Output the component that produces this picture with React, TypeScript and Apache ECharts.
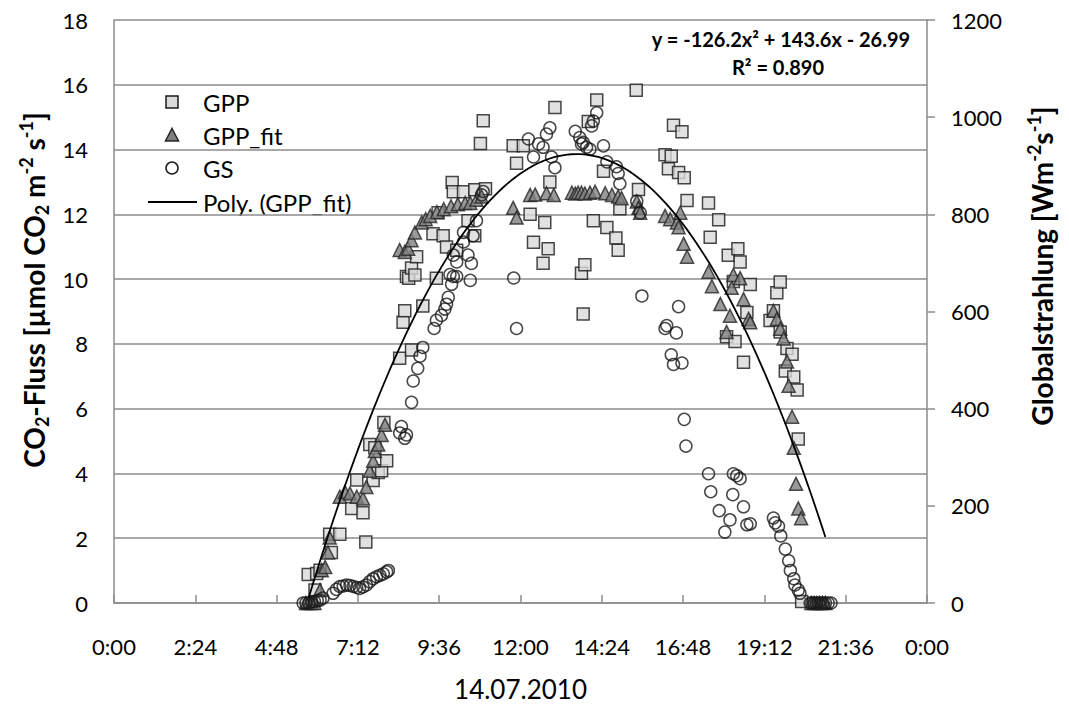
import React, { useEffect, useRef } from "react";
import * as echarts from "echarts";

// Measured fluxes on 14.07.2010, as [local time, value]
// GPP and GPP_fit in µmol CO2 m-2 s-1, GS (global radiation) in W m-2
const GPP: [string, number][] = [
  ["5:44", 0.88], ["5:56", 0.4], ["5:59", 0.91], ["6:05", 1.01], ["6:22", 2.12], ["6:25", 1.56],
  ["6:40", 2.12], ["7:01", 2.92], ["7:10", 3.8], ["7:21", 2.79], ["7:26", 1.88], ["7:33", 4.89],
  ["7:39", 3.78], ["7:42", 4.79], ["7:48", 4.03], ["7:54", 4.08], ["7:58", 5.57], ["8:03", 4.39],
  ["8:26", 7.56], ["8:32", 8.67], ["8:35", 9.02], ["8:38", 10.08], ["8:42", 10.03], ["8:47", 7.81],
  ["8:47", 10.34], ["8:53", 10.13], ["8:56", 10.69], ["9:07", 9.17], ["9:25", 11.4], ["9:31", 10.03],
  ["9:34", 12.05], ["9:43", 11.34], ["9:49", 10.99], ["9:59", 12.98], ["10:01", 12.7],
  ["10:07", 10.89], ["10:19", 12.7], ["10:27", 11.8], ["10:39", 12.76], ["10:39", 11.34],
  ["10:49", 14.19], ["10:54", 14.89], ["10:58", 12.79],
  ["11:47", 14.12], ["11:53", 13.58], ["12:05", 14.12], ["12:17", 12.0], ["12:23", 11.14],
  ["12:40", 10.49], ["12:43", 11.75], ["12:49", 10.94], ["12:52", 13.0], ["13:01", 15.3],
  ["13:48", 10.18], ["13:51", 8.92], ["13:54", 10.44], ["14:00", 14.87], ["14:09", 11.8],
  ["14:15", 15.53], ["14:27", 13.33], ["14:33", 11.59], ["14:49", 11.27], ["14:53", 10.89],
  ["14:56", 12.17], ["15:25", 15.83], ["15:29", 12.77], ["16:16", 13.84], ["16:22", 13.41],
  ["16:27", 13.79], ["16:31", 14.75], ["16:40", 13.29], ["16:46", 14.55], ["16:50", 13.13],
  ["16:55", 12.43], ["17:33", 12.35], ["17:36", 11.29], ["17:51", 11.83], ["18:05", 8.22],
  ["18:08", 10.74], ["18:17", 9.93], ["18:20", 8.07], ["18:25", 10.94], ["18:29", 10.53],
  ["18:35", 7.43], ["18:41", 8.97], ["18:47", 9.83], ["19:22", 8.72], ["19:28", 9.02],
  ["19:34", 9.58], ["19:40", 9.91], ["19:40", 8.37], ["19:49", 7.16], ["19:52", 7.86],
  ["20:01", 7.68], ["20:04", 6.98], ["20:10", 6.58], ["20:12", 5.06], ["20:18", 0.05],
];

const GPP_FIT: [string, number][] = [
  ["5:40", 0], ["5:45", 0], ["5:50", 0], ["5:55", 0], ["6:05", 0.4], ["6:08", 1.01], ["6:14", 1.11],
  ["6:19", 1.56], ["6:22", 2.02], ["6:40", 3.28], ["6:49", 3.43], ["6:58", 3.38], ["7:10", 3.28],
  ["7:21", 3.23], ["7:27", 3.58], ["7:33", 4.08], ["7:39", 4.39], ["7:42", 4.69], ["7:48", 4.89],
  ["7:54", 5.19], ["8:00", 5.5], ["8:26", 10.9], ["8:35", 10.84], ["8:41", 10.94], ["8:47", 11.2],
  ["8:53", 11.44], ["9:05", 11.75], ["9:12", 11.85], ["9:20", 11.95], ["9:32", 12.07],
  ["9:44", 12.16], ["9:57", 12.25], ["10:09", 12.31], ["10:22", 12.35], ["10:31", 12.35],
  ["10:42", 12.45], ["10:51", 12.55],
  ["11:47", 12.2], ["11:53", 11.9], ["12:17", 12.6], ["12:26", 12.61], ["12:46", 12.65],
  ["12:59", 12.6], ["13:31", 12.67], ["13:37", 12.64], ["13:42", 12.67], ["13:48", 12.67],
  ["13:54", 12.64], ["14:03", 12.67], ["14:12", 12.7], ["14:30", 12.65], ["14:42", 12.6],
  ["14:53", 12.55], ["14:59", 12.5], ["15:26", 12.4], ["15:29", 12.2], ["15:32", 12.05],
  ["16:16", 11.95], ["16:25", 11.85], ["16:37", 11.75], ["16:40", 11.6], ["16:43", 12.05],
  ["16:49", 11.09], ["16:55", 10.69], ["17:33", 10.23], ["17:39", 9.78], ["17:54", 9.23],
  ["18:05", 8.37], ["18:11", 8.87], ["18:14", 9.73], ["18:17", 10.13], ["18:29", 10.03],
  ["18:35", 9.38], ["18:44", 8.77], ["18:47", 8.67], ["19:28", 9.02], ["19:34", 8.77],
  ["19:40", 8.47], ["19:46", 8.17], ["19:52", 7.46], ["19:55", 6.71], ["20:01", 5.75],
  ["20:04", 4.79], ["20:08", 3.68], ["20:12", 2.92], ["20:17", 2.62], ["20:35", 0], ["20:40", 0],
  ["20:45", 0], ["20:50", 0], ["20:55", 0], ["21:00", 0],
];

const GS: [string, number][] = [
  ["5:35", 0], ["5:40", 0], ["5:45", 0], ["5:50", 2], ["5:55", 3], ["6:00", 5], ["6:05", 6],
  ["6:10", 10], ["6:28", 20], ["6:34", 28], ["6:40", 34], ["6:46", 35], ["6:52", 37], ["6:58", 36],
  ["7:04", 34], ["7:10", 32], ["7:15", 30], ["7:21", 33], ["7:27", 37], ["7:33", 44], ["7:39", 50],
  ["7:45", 54], ["7:51", 57], ["7:57", 60], ["8:03", 64], ["8:06", 67],
  ["8:26", 350], ["8:29", 363], ["8:35", 339], ["8:38", 346], ["8:47", 413], ["8:50", 457],
  ["8:58", 483], ["9:02", 508], ["9:07", 526], ["9:27", 565], ["9:31", 582], ["9:40", 592],
  ["9:46", 605], ["9:49", 615], ["9:52", 629], ["9:55", 676], ["9:58", 656], ["10:01", 672],
  ["10:01", 716], ["10:07", 672], ["10:07", 702], ["10:19", 763], ["10:19", 743], ["10:27", 716],
  ["10:31", 664], ["10:33", 699], ["10:36", 756], ["10:42", 787], ["10:51", 840], ["10:54", 847],
  ["11:48", 669], ["11:53", 565], ["12:14", 955], ["12:23", 918], ["12:32", 945], ["12:40", 938],
  ["12:46", 965], ["12:52", 978], ["12:55", 918], ["13:01", 896], ["13:37", 971], ["13:45", 958],
  ["13:48", 945], ["13:51", 948], ["13:57", 938], ["14:03", 934], ["14:06", 982], ["14:09", 992],
  ["14:15", 1009], ["14:27", 941], ["14:33", 908], ["14:50", 898], ["14:53", 884], ["14:56", 863],
  ["15:26", 827], ["15:32", 803], ["15:35", 632], ["16:16", 565], ["16:19", 571], ["16:27", 511],
  ["16:31", 491], ["16:36", 556], ["16:40", 610], ["16:46", 494], ["16:50", 378], ["16:53", 323],
  ["17:33", 266], ["17:37", 229], ["17:52", 190], ["18:02", 146], ["18:11", 171], ["18:16", 223],
  ["18:17", 266], ["18:23", 262], ["18:29", 256], ["18:35", 198], ["18:41", 161], ["18:47", 163],
  ["19:28", 175], ["19:31", 165], ["19:37", 158], ["19:41", 138], ["19:49", 111], ["19:55", 87],
  ["19:58", 67], ["20:04", 50], ["20:06", 37], ["20:12", 27], ["20:15", 20], ["20:33", 0],
  ["20:36", 0], ["20:40", 0], ["20:44", 0], ["20:48", 0], ["20:52", 0], ["20:56", 0], ["21:00", 0],
  ["21:05", 0], ["21:10", 0],
];

// Second-order polynomial trend of GPP_fit (x = fraction of day)
const POLY_A = -126.2;
const POLY_B = 143.6;
const POLY_C = -26.99;
const POLY_RANGE: [string, string] = ["5:45", "21:00"];
const EQUATION = "y = -126.2x² + 143.6x - 26.99";
const R_SQUARED = "R² = 0.890";

const X_TITLE = "14.07.2010";
const LEGEND = ["GPP", "GPP_fit", "GS", "Poly. (GPP_fit)"];

const FONT = "Lato, 'Open Sans', sans-serif";
const GRID_COLOR = "#8c8c8c";

const toDay = (s: string) => {
  const [h, m] = s.split(":").map(Number);
  return (h * 60 + m) / 1440;
};

const fmtTime = (v: number) => {
  const total = Math.round(v * 1440) % 1440;
  const h = Math.floor(total / 60);
  const m = total % 60;
  return `${h}:${m < 10 ? "0" : ""}${m}`;
};

export default function App() {
  const ref = useRef<HTMLDivElement>(null);

  useEffect(() => {
    if (!ref.current) return;
    const chart = echarts.init(ref.current, undefined, { renderer: "svg" });

    const t0 = toDay(POLY_RANGE[0]);
    const t1 = toDay(POLY_RANGE[1]);
    const trend: [number, number][] = [];
    const steps = 120;
    for (let i = 0; i <= steps; i++) {
      const x = t0 + ((t1 - t0) * i) / steps;
      trend.push([x, POLY_A * x * x + POLY_B * x + POLY_C]);
    }

    const rowY = [102, 135, 168, 202];
    const legendGraphics: any[] = [
      {
        type: "rect",
        shape: { x: 166, y: rowY[0] - 6, width: 12, height: 12 },
        style: { fill: "#d9d9d9", stroke: "#1a1a1a", lineWidth: 1.5 },
      },
      {
        type: "polygon",
        shape: { points: [[172, rowY[1] - 6.5], [178.5, rowY[1] + 6], [165.5, rowY[1] + 6]] },
        style: { fill: "#7f7f7f", stroke: "#262626", lineWidth: 1.5 },
      },
      {
        type: "circle",
        shape: { cx: 172, cy: rowY[2], r: 6 },
        style: { fill: "none", stroke: "#1a1a1a", lineWidth: 1.5 },
      },
      {
        type: "line",
        shape: { x1: 148, y1: rowY[3], x2: 197, y2: rowY[3] },
        style: { stroke: "#000", lineWidth: 1.8 },
      },
      ...LEGEND.map((name, i) => ({
        type: "text",
        x: 203,
        y: rowY[i],
        style: {
          text: name,
          font: `24px ${FONT}`,
          fill: "#000",
          verticalAlign: "middle",
          align: "left",
        },
      })),
    ];

    const titleRich = {
      b: { font: `bold 28px ${FONT}`, fill: "#000", lineHeight: 34 },
      sub: { font: `bold 18px ${FONT}`, fill: "#000", verticalAlign: "bottom", lineHeight: 34 },
      sup: { font: `bold 18px ${FONT}`, fill: "#000", verticalAlign: "top", lineHeight: 34 },
    };

    chart.setOption({
      animation: false,
      backgroundColor: "#ffffff",
      grid: { left: 114, right: 142, top: 20, bottom: 92, containLabel: false },
      xAxis: {
        type: "value",
        min: 0,
        max: 1,
        interval: 0.1,
        name: X_TITLE,
        nameLocation: "middle",
        nameGap: 73,
        nameTextStyle: { fontFamily: FONT, fontSize: 26, color: "#000" },
        axisLine: { show: true, lineStyle: { color: GRID_COLOR, width: 1.5 } },
        axisTick: { show: true, inside: true, length: 8, lineStyle: { color: GRID_COLOR, width: 1.5 } },
        axisLabel: {
          formatter: (v: number) => fmtTime(v),
          fontFamily: FONT,
          fontSize: 22,
          color: "#000",
          margin: 32,
        },
        splitLine: { show: false },
      },
      yAxis: [
        {
          type: "value",
          min: 0,
          max: 18,
          interval: 2,
          axisLine: { show: true, lineStyle: { color: GRID_COLOR, width: 1.5 } },
          axisTick: { show: false },
          axisLabel: { fontFamily: FONT, fontSize: 22, color: "#000", margin: 26 },
          splitLine: { show: true, lineStyle: { color: GRID_COLOR, width: 1.5 } },
        },
        {
          type: "value",
          min: 0,
          max: 1200,
          interval: 200,
          position: "right",
          axisLine: { show: true, lineStyle: { color: GRID_COLOR, width: 1.5 } },
          axisTick: { show: true, inside: false, length: 8, lineStyle: { color: GRID_COLOR, width: 1.5 } },
          axisLabel: {
            formatter: (v: number) => String(v),
            fontFamily: FONT,
            fontSize: 22,
            color: "#000",
            margin: 24,
          },
          splitLine: { show: false },
        },
      ],
      graphic: [
        ...legendGraphics,
        {
          type: "text",
          x: 781,
          y: 39,
          style: {
            text: EQUATION,
            font: `bold 20px ${FONT}`,
            fill: "#000",
            align: "center",
            verticalAlign: "middle",
          },
        },
        {
          type: "text",
          x: 778,
          y: 67,
          style: {
            text: R_SQUARED,
            font: `bold 20px ${FONT}`,
            fill: "#000",
            align: "center",
            verticalAlign: "middle",
          },
        },
        {
          type: "text",
          x: 34,
          y: 290,
          rotation: Math.PI / 2,
          style: {
            text: "{b|CO}{sub|2}{b|-Fluss [µmol CO}{sub|2}{b| m}{sup|-2}{b| s}{sup|-1}{b|]}",
            rich: titleRich,
            align: "center",
            verticalAlign: "middle",
          },
        },
        {
          type: "text",
          x: 1042,
          y: 266,
          rotation: Math.PI / 2,
          style: {
            text: "{b|Globalstrahlung [Wm}{sup|-2}{b|s}{sup|-1}{b|]}",
            rich: titleRich,
            align: "center",
            verticalAlign: "middle",
          },
        },
      ],
      series: [
        {
          name: "GPP",
          type: "scatter",
          symbol: "rect",
          symbolSize: 12,
          yAxisIndex: 0,
          itemStyle: { color: "#d9d9d9", borderColor: "#1a1a1a", borderWidth: 1.5 },
          data: GPP.map(([t, v]) => [toDay(t), v]),
          z: 2,
        },
        {
          name: "GPP_fit",
          type: "scatter",
          symbol: "triangle",
          symbolSize: 13,
          yAxisIndex: 0,
          itemStyle: { color: "#7f7f7f", borderColor: "#262626", borderWidth: 1.5 },
          data: GPP_FIT.map(([t, v]) => [toDay(t), v]),
          z: 3,
        },
        {
          name: "GS",
          type: "scatter",
          symbol: "circle",
          symbolSize: 12,
          yAxisIndex: 1,
          itemStyle: { color: "rgba(0,0,0,0)", borderColor: "#1a1a1a", borderWidth: 1.5 },
          data: GS.map(([t, v]) => [toDay(t), v]),
          z: 4,
        },
        {
          name: "Poly. (GPP_fit)",
          type: "line",
          yAxisIndex: 0,
          showSymbol: false,
          smooth: false,
          lineStyle: { color: "#000", width: 1.8 },
          data: trend,
          z: 5,
        },
      ],
    });

    return () => chart.dispose();
  }, []);

  return (
    <div
      ref={ref}
      style={{ position: "fixed", left: 0, top: 0, width: 1069, height: 707, background: "#fff" }}
    />
  );
}
